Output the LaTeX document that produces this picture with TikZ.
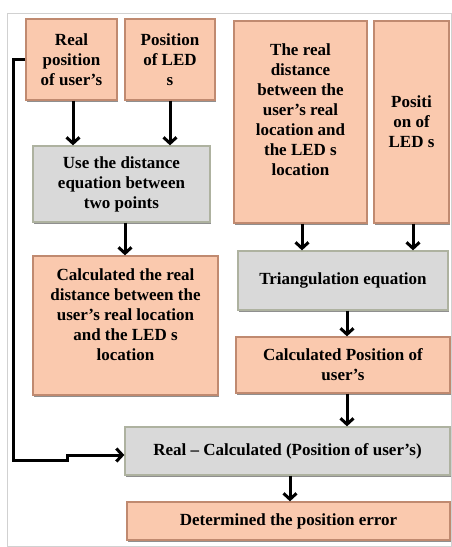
\documentclass[tikz,border=0pt]{standalone}
\usepackage{fontspec}
\setmainfont{Liberation Serif}
\usetikzlibrary{arrows.meta,shadows,calc}
\definecolor{peach}{HTML}{FAC9AE}
\definecolor{peachedge}{HTML}{C08A70}
\definecolor{greyfill}{HTML}{D9D9D9}
\definecolor{greyedge}{HTML}{AEB2A0}
\begin{document}
\begin{tikzpicture}[x=1pt,y=-1pt,
  txt/.style={inner sep=0pt, align=center, font=\fontsize{17}{20}\selectfont\bfseries},
  box/.style={draw, line width=1.3pt, txt,
    drop shadow={shadow xshift=1.2pt, shadow yshift=-2.2pt, fill=black!55, opacity=0.8}},
  pbox/.style={box, fill=peach, draw=peachedge},
  gbox/.style={box, fill=greyfill, draw=greyedge},
  flow/.style={line width=3pt, -{Straight Barb[length=6pt,width=13pt]}}]
\useasboundingbox (0,0) rectangle (452,547);
\fill[white] (0,0) rectangle (452,547);
\draw[black!18, line width=0.8pt] (7,13) rectangle (451,546);

\node[pbox, minimum width=91, minimum height=81] (real) at (71.5,59.5) {Real\\position\\of user's};
\node[pbox, minimum width=90, minimum height=81] (ledA) at (170,59.5) {Position\\of LED\\s};
\node[gbox, minimum width=177, minimum height=76] (dist) at (121.5,184) {Use the distance\\equation between\\two points};
\node[pbox, minimum width=185, minimum height=139] (cdist) at (125.5,325.5) {};
\node[txt] (cdisttxt) at (125.5,314.5) {Calculated the real\\distance between the\\user's real location\\and the LED s\\location};
\node[pbox, minimum width=133, minimum height=202] (rdist) at (300.5,122) {};
\node[txt] (rdisttxt) at (300.5,110) {The real\\distance\\between the\\user's real\\location and\\the LED s\\location};
\node[pbox, minimum width=75, minimum height=202] (ledB) at (411.5,122) {Positi\\on of\\LED s};
\node[gbox, minimum width=210, minimum height=59] (tri) at (343,280.5) {Triangulation equation};
\node[pbox, minimum width=214, minimum height=56] (cpos) at (343,365) {Calculated Position of\\user's};
\node[gbox, minimum width=325, minimum height=48] (rc) at (287.5,451) {Real -- Calculated (Position of user's)};
\node[pbox, minimum width=323, minimum height=38] (err) at (288.5,521) {Determined the position error};

\coordinate (s1) at ($(real.south)+(1.5,0)$);
\coordinate (s2) at (ledA.south);
\coordinate (s3) at ($(dist.south)+(3.5,0)$);
\coordinate (s4) at ($(rdist.south)+(1.5,0)$);
\coordinate (s5) at ($(ledB.south)+(1.5,0)$);
\coordinate (s6) at ($(tri.south)+(4,0)$);
\coordinate (s7) at ($(cpos.south)+(4,0)$);
\coordinate (s8) at ($(rc.south)+(2.5,0)$);
\draw[flow] (s1) -- (s1 |- dist.north);
\draw[flow] (s2) -- (s2 |- dist.north);
\draw[flow] (s3) -- (s3 |- cdist.north);
\draw[flow] (s4) -- (s4 |- tri.north);
\draw[flow] (s5) -- (s5 |- tri.north);
\draw[flow] (s6) -- (s6 |- cpos.north);
\draw[flow] (s7) -- (s7 |- rc.north);
\draw[flow] (s8) -- (s8 |- err.north);

\coordinate (lt) at (13,59.5);
\coordinate (lb) at (13,460);
\coordinate (j1) at (67,460);
\coordinate (j2) at (67,455);
\draw[flow, line join=miter] (real.west |- lt) -- (lt) -- (lb) -- (j1) -- (j2) -- (j2 -| rc.west);
\end{tikzpicture}
\end{document}
